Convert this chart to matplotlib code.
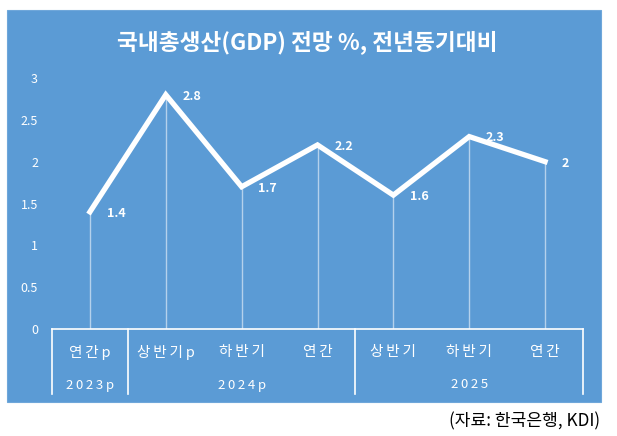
import matplotlib
matplotlib.use("Agg")
import matplotlib.pyplot as plt
from matplotlib.patches import Rectangle

plt.rcParams['font.family'] = ['Noto Sans CJK KR', 'DejaVu Sans']

# data
periods = ["연간p", "상반기p", "하반기", "연간", "상반기", "하반기", "연간"]
years = ["2023p", "2024p", "2025"]
year_spans = [(0, 1), (1, 4), (4, 7)]   # category index ranges per year group
gdp = [1.4, 2.8, 1.7, 2.2, 1.6, 2.3, 2.0]
value_labels = ["1.4", "2.8", "1.7", "2.2", "1.6", "2.3", "2"]
yticks = [0, 0.5, 1, 1.5, 2, 2.5, 3]

BLUE = "#5b9bd5"
W, H = 617, 436


def spaced(s):
    # excel draws axis labels with a little letter spacing; thin space
    # comes from DejaVu Sans through the family fallback list
    return "\u2009".join(s)


fig = plt.figure(figsize=(W / 100, H / 100), dpi=100)
fig.patch.set_facecolor("white")

# blue chart panel on its own background axes
bg = fig.add_axes([0, 0, 1, 1], zorder=0)
bg.set_axis_off()
bg.set_xlim(0, W)
bg.set_ylim(H, 0)
bg.add_patch(Rectangle((7, 10), 594, 392, facecolor=BLUE,
                       edgecolor="#6fa7da", linewidth=0.8))

ax = fig.add_axes([52 / W, 1 - 329 / H, 531 / W, 251 / H], zorder=1)
ax.set_facecolor("none")
for s in ax.spines.values():
    s.set_visible(False)

x = list(range(len(gdp)))
ax.set_xlim(-0.5, len(gdp) - 0.5)
ax.set_ylim(0, 3)

px = 3 / 251  # data units per pixel in y

# drop lines
ax.vlines(x, 0, gdp, colors="white", linewidth=1.0, alpha=0.55, zorder=2)
ax.plot(x, gdp, color="white", linewidth=3.8, solid_joinstyle="miter",
        clip_on=False, zorder=3)

for xi, v, lab in zip(x, gdp, value_labels):
    ax.annotate(lab, (xi, v), xytext=(12, -1), textcoords="offset points",
                ha="left", va="center", color="white", fontsize=9,
                fontweight="bold", zorder=4)

ax.set_yticks(yticks)
ax.set_yticklabels([f"{t:g}" for t in yticks], color="white", fontsize=9)
ax.tick_params(axis="y", length=0, pad=10)
ax.set_xticks([])

# multi-level category axis
ax.plot([-0.5, len(gdp) - 0.5], [0, 0], color="white", linewidth=1.2,
        clip_on=False, zorder=3)
bounds = sorted({b for span in year_spans for b in span})
for b in bounds:
    ax.plot([b - 0.5, b - 0.5], [0, -65 * px], color="white", linewidth=1.2,
            clip_on=False, zorder=3)
for xi, lab in zip(x, periods):
    ax.text(xi, -23 * px, spaced(lab), ha="center", va="center",
            color="white", fontsize=10.5)
for (a, b), yr in zip(year_spans, years):
    ax.text((a + b - 1) / 2, -56 * px, spaced(yr), ha="center", va="center",
            color="white", fontsize=9.5)

bg.text(307, 42, "국내총생산(GDP) 전망 %, 전년동기대비",
        ha="center", va="center", color="white", fontsize=16.3,
        fontweight="bold")
bg.text(600, 421, "(자료: 한국은행, KDI)", ha="right",
        va="center", color="black", fontsize=12.3)

fig.savefig("out.png", dpi=100)
